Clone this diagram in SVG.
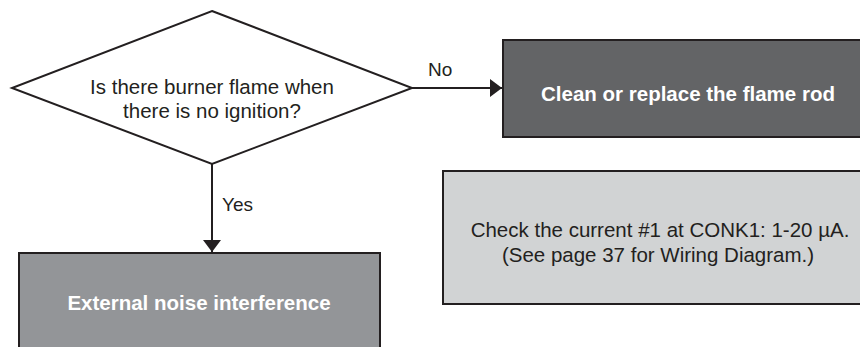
<svg xmlns="http://www.w3.org/2000/svg" width="860" height="347" viewBox="0 0 860 347">
<style>
  .t { font-family: "Liberation Sans", Arial, sans-serif; fill: #231f20; font-size: 20.5px; }
  .b { font-family: "Liberation Sans", Arial, sans-serif; fill: #ffffff; font-size: 20.5px; font-weight: bold; }
  .lbl { font-family: "Liberation Sans", Arial, sans-serif; fill: #231f20; font-size: 19px; }
  .edge { stroke: #231f20; stroke-width: 2; fill: none; }
  .box { stroke: #231f20; stroke-width: 2; }
</style>
<defs>
  <marker id="ah" viewBox="0 0 12 18" refX="12" refY="9" markerWidth="12" markerHeight="18" markerUnits="userSpaceOnUse" orient="auto">
    <path d="M0,0 L12,9 L0,18 Z" fill="#231f20"/>
  </marker>
</defs>
<rect width="860" height="347" fill="#ffffff"/>
<g id="connectors">
  <line class="edge" x1="412" y1="88" x2="502" y2="88" marker-end="url(#ah)"/>
  <text class="lbl" x="428" y="76">No</text>
  <line class="edge" x1="212" y1="164" x2="212" y2="252" marker-end="url(#ah)"/>
  <text class="lbl" x="222" y="211">Yes</text>
</g>
<g id="decision">
  <polygon points="212,11 412,88 212,164 12,88" fill="#ffffff" stroke="#231f20" stroke-width="2"/>
  <text class="t" x="212" y="94" text-anchor="middle">Is there burner flame when</text>
  <text class="t" x="212" y="118" text-anchor="middle">there is no ignition?</text>
</g>
<g id="clean">
  <rect class="box" x="503" y="40" width="372" height="97" fill="#636466"/>
  <text class="b" x="688" y="101" text-anchor="middle">Clean or replace the flame rod</text>
</g>
<g id="check">
  <rect class="box" x="443" y="171" width="434" height="133" fill="#d1d3d4"/>
  <text class="t" x="660" y="237" text-anchor="middle">Check the current #1 at CONK1: 1-20 µA.</text>
  <text class="t" x="658" y="262" text-anchor="middle">(See page 37 for Wiring Diagram.)</text>
</g>
<g id="noise">
  <rect class="box" x="19" y="253" width="361" height="104" fill="#939598"/>
  <text class="b" x="199" y="310" text-anchor="middle">External noise interference</text>
</g>
</svg>
